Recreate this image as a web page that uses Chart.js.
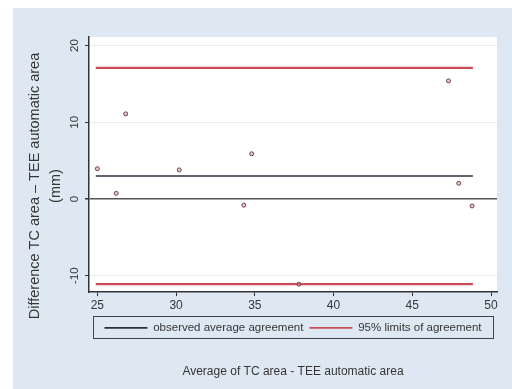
<!DOCTYPE html>
<html><head><meta charset="utf-8">
<script src="https://cdn.jsdelivr.net/npm/chart.js@4/dist/chart.umd.min.js"></script>
<style>html,body{margin:0;padding:0;background:#fff;overflow:hidden;}</style>
</head><body>
<canvas id="c" width="512" height="389" style="display:block;width:512px;height:389px"></canvas>
<script>
// ---- data ----
const avgValues  = [25.0, 26.2, 26.8, 30.2, 34.3, 34.8, 37.8, 47.3, 47.95, 48.8];
const diffValues = [3.95, 0.74, 11.1, 3.8, -0.8, 5.9, -11.1, 15.4, 2.05, -0.9];
const meanDiff   = 3.0;
const upperLimit = 17.1;
const lowerLimit = -11.1;
const lineRange  = [24.9, 48.85];
const xTicks = [25, 30, 35, 40, 45, 50];
const yTicks = [-10, 0, 10, 20];
const seriesLabels = ['observed average agreement', '95% limits of agreement'];
const xTitle = 'Average of TC area - TEE automatic area';
const yTitleLines = ['Difference TC area \u2013 TEE automatic area', '(mm)'];

const FONT = "'Liberation Sans', Arial, sans-serif";
const TXT = '#363636';

const points = avgValues.map((x, i) => ({x, y: diffValues[i]}));
const hLine = v => lineRange.map(x => ({x, y: v}));

const bgPlugin = {
  id: 'bg',
  beforeDraw(chart) {
    const {ctx, chartArea: a} = chart;
    ctx.save();
    ctx.fillStyle = '#ffffff';
    ctx.fillRect(0, 0, chart.width, chart.height);
    ctx.fillStyle = '#dde8f2';
    ctx.fillRect(13, 8, chart.width - 13, chart.height - 8);
    ctx.fillStyle = '#ffffff';
    ctx.fillRect(a.left, a.top, a.right - a.left, a.bottom - a.top);
    ctx.restore();
  },
  afterDraw(chart) {
    const {ctx, chartArea: a} = chart;
    const lg = chart.legend;
    ctx.save();
    ctx.strokeStyle = '#444';
    ctx.lineWidth = 1;
    ctx.strokeRect(Math.round(a.left + 4) + 0.5, Math.round(lg.top) + 0.5, Math.round(a.right - a.left - 8), 22);
    // y axis title
    ctx.fillStyle = TXT;
    ctx.font = '14.5px ' + FONT;
    ctx.textAlign = 'center';
    ctx.textBaseline = 'middle';
    ctx.translate(35, 186);
    ctx.rotate(-Math.PI / 2);
    yTitleLines.forEach((t, i) => ctx.fillText(t, 0, i * 21));
    ctx.restore();
  }
};

new Chart(document.getElementById('c'), {
  type: 'scatter',
  data: {
    datasets: [
      {label: 'points', data: points, pointRadius: 2, pointBorderWidth: 1,
       pointBorderColor: '#6e4248', pointBackgroundColor: 'rgba(220,140,140,0.5)', showLine: false},
      {label: seriesLabels[0], data: hLine(meanDiff), showLine: true, borderColor: '#2e2e3e', borderWidth: 1.6,
       pointRadius: 0, pointBorderColor: '#2e2e3e', pointBorderWidth: 1.6},
      {label: seriesLabels[1], data: hLine(upperLimit), showLine: true, borderColor: '#cc4e58', borderWidth: 2.2,
       pointRadius: 0, pointBorderColor: '#cc4e58', pointBorderWidth: 1.6},
      {label: seriesLabels[1], data: hLine(lowerLimit), showLine: true, borderColor: '#cc4e58', borderWidth: 2.2,
       pointRadius: 0, pointBorderColor: '#cc4e58', pointBorderWidth: 1.6}
    ]
  },
  options: {
    responsive: false,
    animation: false,
    devicePixelRatio: 1,
    layout: {padding: {left: 14, top: 37, right: 15, bottom: 0}},
    plugins: {
      tooltip: {enabled: false},
      legend: {
        position: 'bottom',
        fullSize: false,
        labels: {
          usePointStyle: true,
          pointStyle: 'line',
          pointStyleWidth: 43,
          padding: 6,
          color: TXT,
          font: {family: FONT, size: 11.5},
          filter: item => item.datasetIndex === 1 || item.datasetIndex === 2
        }
      },
      title: {
        display: true,
        position: 'bottom',
        fullSize: false,
        text: xTitle,
        color: TXT,
        font: {family: FONT, size: 12, weight: 'normal'},
        padding: {top: 21, bottom: 10}
      }
    },
    scales: {
      x: {
        type: 'linear',
        min: 24.47, max: 50.38,
        afterBuildTicks: s => { s.ticks = xTicks.map(v => ({value: v})); },
        afterFit: s => { s.height = 24; },
        ticks: {color: TXT, font: {family: FONT, size: 12}, padding: 2, maxRotation: 0},
        grid: {display: true, drawOnChartArea: false, tickLength: 4, tickColor: '#333'},
        border: {color: '#333', width: 1.5}
      },
      y: {
        type: 'linear',
        min: -12.13, max: 21.12,
        afterBuildTicks: s => { s.ticks = yTicks.map(v => ({value: v})); },
        afterFit: s => { s.width = 75; },
        ticks: {color: TXT, font: {family: FONT, size: 11.5}, minRotation: 90, maxRotation: 90,
                crossAlign: 'center', padding: 2},
        grid: {
          color: c => (c.tick && c.tick.value === 0) ? '#555' : '#ebebeb',
          lineWidth: c => (c.tick && c.tick.value === 0) ? 1.5 : 1,
          tickLength: 4, tickColor: '#333'
        },
        border: {color: '#333', width: 1.5}
      }
    }
  },
  plugins: [bgPlugin]
});
</script>
</body></html>
